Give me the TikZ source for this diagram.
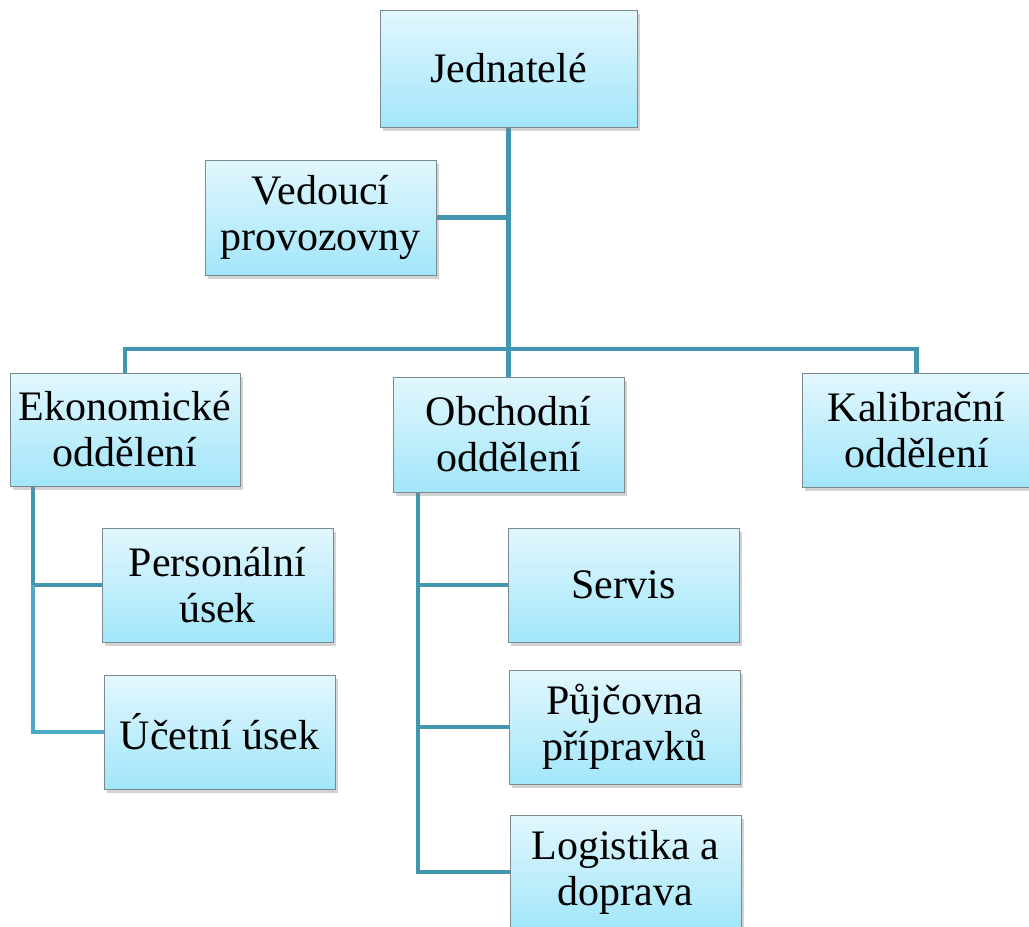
\documentclass[tikz,border=0pt]{standalone}
\usepackage{fontspec}
\setmainfont{Liberation Serif}
\usetikzlibrary{shadows,backgrounds}
\definecolor{boxtop}{HTML}{E2F7FD}
\definecolor{boxbottom}{HTML}{A2E6FA}
\definecolor{boxline}{HTML}{7A8A90}
\definecolor{linkcol}{HTML}{4396B0}
\definecolor{linklight}{HTML}{4BAAC6}
\begin{document}
\begin{tikzpicture}[x=1pt,y=-1pt,
  orgbox/.style={draw=boxline, line width=1pt, top color=boxtop, bottom color=boxbottom,
    minimum width=231pt, minimum height=114pt, align=center, inner sep=2pt,
    font=\fontsize{42}{46}\selectfont,
    drop shadow={opacity=0.35, shadow xshift=3pt, shadow yshift=-4pt}},
  link/.style={draw=linkcol, line width=4.5pt},
  sublink/.style={draw=linklight, line width=4.5pt}]
\useasboundingbox (0,0) rectangle (1029,927);

% boxes
\node[orgbox, minimum width=257pt, minimum height=117pt] (J) at (508.5,68.5) {Jednatelé};
\node[orgbox, minimum height=115pt] (V) at (320.5,217.5) {Vedoucí\\provozovny};
\node[orgbox, minimum width=230pt, minimum height=113pt] (E) at (125,429.5) {Ekonomické\\oddělení};
\node[orgbox, minimum height=115pt] (O) at (508.5,434.5) {Obchodní\\oddělení};
\node[orgbox, minimum width=229pt] (K) at (916.5,430) {Kalibrační\\oddělení};
\node[orgbox] (P) at (217.5,585) {Personální\\úsek};
\node[orgbox] (U) at (219.5,732) {Účetní úsek};
\node[orgbox] (S) at (623.5,585) {Servis};
\node[orgbox] (Pu) at (624.5,727) {Půjčovna\\přípravků};
\node[orgbox] (L) at (625.5,872) {Logistika a\\doprava};

% connectors behind the boxes
\coordinate (bar) at (508,349);
\coordinate (ebar) at (33,486);
\coordinate (obar) at (418,492);
\begin{scope}[on background layer]
  \draw[link] (J.south) -- (O.north);
  \draw[link] (V.east) -- (V.east -| J.south);
  \draw[link] (E.north) |- (bar) -| (K.north);
  \draw[link] (ebar) -- (ebar |- P.west) -- (P.west);
  \draw[sublink] (ebar |- P.west) |- (U.west);
  \draw[link] (obar) |- (L.west);
  \draw[link] (obar |- S.west) -- (S.west);
  \draw[link] (obar |- Pu.west) -- (Pu.west);
\end{scope}
\end{tikzpicture}
\end{document}
